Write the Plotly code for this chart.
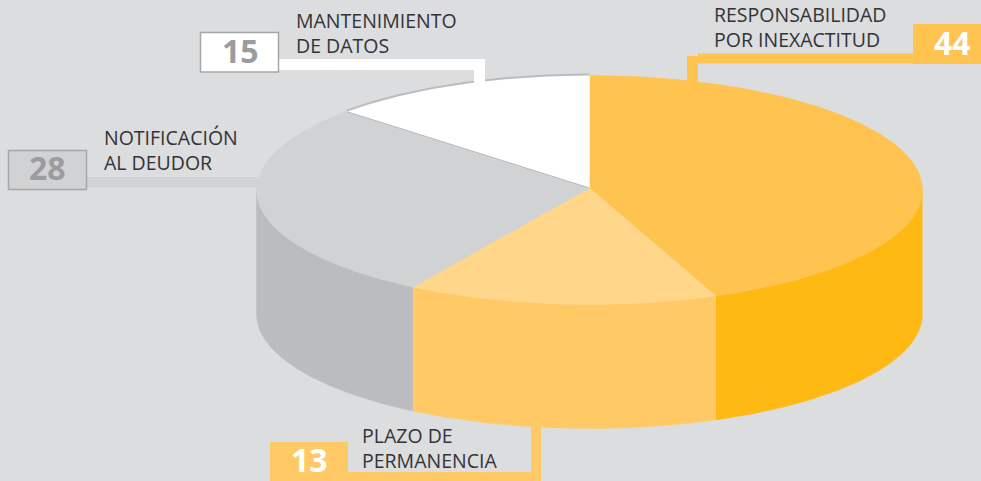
import numpy as np
import plotly.graph_objects as go

# Values printed on the chart
categories = ["RESPONSABILIDAD<br>POR INEXACTITUD", "PLAZO DE<br>PERMANENCIA", "NOTIFICACIÓN<br>AL DEUDOR", "MANTENIMIENTO<br>DE DATOS"]
labels = [44, 13, 28, 15]
# Angular shares of the slices (clockwise from 12 o'clock)
slice_shares = [43.8, 15.1, 28.1, 13.0]

top_colors = ["#FFC350", "#FFD68A", "#D1D2D4", "#FFFFFF"]
side_colors = ["#FFB913", "#FFCA66", "#BBBCBF", "#BBBCBF"]
BG = "#DCDDDF"
TEXT = "#333335"

CX, CY, RX, RY, DEPTH = 589.5, 190, 333, 114.5, 124
APEX_Y = 188

def arc(t0, t1, dy=0):
    t = np.radians(np.linspace(t0, t1, max(int(abs(t1 - t0) * 2), 2)))
    return CX + RX * np.sin(t), CY + dy - RY * np.cos(t)

fig = go.Figure()
edges = np.concatenate([[0], np.cumsum(slice_shares)]) / sum(slice_shares) * 360

# side walls (only the front half of the ellipse is visible)
for i in range(4):
    a, b = max(edges[i], 90), min(edges[i + 1], 270)
    if b <= a:
        continue
    x1, y1 = arc(a, b)
    x2, y2 = arc(b, a, DEPTH)
    fig.add_trace(go.Scatter(x=np.r_[x1, x2], y=np.r_[y1, y2], fill="toself", mode="lines",
                             line=dict(width=0.5, color=side_colors[i]), fillcolor=side_colors[i],
                             hoverinfo="skip", showlegend=False))
# top faces
for i in range(4):
    x, y = arc(edges[i], edges[i + 1])
    fig.add_trace(go.Scatter(x=np.r_[CX, x, CX], y=np.r_[APEX_Y, y, APEX_Y], fill="toself", mode="lines",
                             line=dict(width=0.5, color=top_colors[i]), fillcolor=top_colors[i],
                             hoverinfo="skip", showlegend=False))
# rim and dividing edge of the white slice
x, y = arc(edges[3], edges[4])
fig.add_trace(go.Scatter(x=x, y=y - 1, mode="lines", line=dict(width=2, color="#BBBCBF"),
                         hoverinfo="skip", showlegend=False))
x, y = arc(edges[3], edges[3])
fig.add_trace(go.Scatter(x=[CX, x[0]], y=[APEX_Y, y[0]], mode="lines", line=dict(width=1, color="#B5B6B8"),
                         hoverinfo="skip", showlegend=False))

def rect(x0, y0, x1, y1, color, border=None, layer="above"):
    fig.add_shape(type="rect", x0=x0, y0=y0, x1=x1, y1=y1, fillcolor=color, layer=layer,
                  line=dict(width=1.5 if border else 0, color=border or color))

# leader lines
rect(278, 59, 485, 70, "#FFFFFF")
rect(474, 59, 485, 83, "#FFFFFF")
rect(86, 177, 262, 187, "#D1D2D4", layer="below")
rect(698, 53.5, 915, 63.5, "#FFC350")
rect(687, 56, 698, 84, "#FFC350")
rect(348, 472, 541, 481, "#FFCA66")
rect(531, 425, 541, 481, "#FFCA66")

# value boxes
box_geo = [(913, 24, 982, 64), (270, 442, 348, 482), (8.5, 150.5, 86.5, 189.5), (200.5, 32.5, 278.5, 72)]
box_fill = ["#FFC350", "#FFCA66", "#D1D2D4", "#FFFFFF"]
box_border = [None, None, "#A5A6A8", "#A5A6A8"]
num_color = ["#FFFFFF", "#FFFFFF", "#9B9C9F", "#9B9C9F"]
num_pos = [(952, 42), (309, 459.5), (47.5, 167), (240, 50)]
text_pos = [(714, 26.5), (362, 448), (104, 150), (296, 32.5)]

def note(x, y, s, size, color, anchor="left", bold=False):
    fig.add_annotation(x=x, y=y, text=f"<b>{s}</b>" if bold else s, showarrow=False, xanchor=anchor,
                       align=anchor, yanchor="middle", borderpad=0, borderwidth=0,
                       font=dict(family="Open Sans", size=size, color=color))

for i in range(4):
    rect(*box_geo[i], box_fill[i], box_border[i])
    note(*num_pos[i], str(labels[i]), 32, num_color[i], "center", True)
    note(*text_pos[i], categories[i], 19.5, TEXT)

fig.update_layout(width=981, height=481, margin=dict(l=0, r=0, t=0, b=0),
                  paper_bgcolor=BG, plot_bgcolor=BG, showlegend=False,
                  xaxis=dict(range=[0, 981], visible=False, fixedrange=True),
                  yaxis=dict(range=[481, 0], visible=False, fixedrange=True))

fig.write_html("out.html", config=dict(displayModeBar=False),
               post_script="document.body.style.margin='0';document.body.style.background='%s';" % BG)
